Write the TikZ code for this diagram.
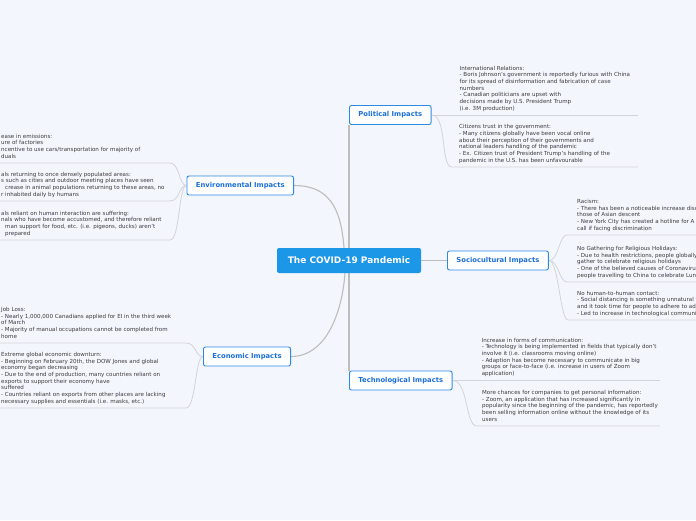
\documentclass[tikz,border=0pt]{standalone}
\usepackage{fontspec}
\setmainfont{DejaVu Sans}
\usepackage{xcolor}
\usepackage{tikz}
\usetikzlibrary{positioning, backgrounds}
\definecolor{paper}{HTML}{F4F6FD}
\definecolor{hubblue}{HTML}{1C96E6}
\definecolor{edgeblue}{HTML}{2B8AE6}
\definecolor{titleblue}{HTML}{1A6FD6}
\definecolor{stem}{HTML}{BDBDBD}
\definecolor{twiggray}{HTML}{D3D4D9}
\definecolor{notegray}{HTML}{3C3C3C}

\begin{document}
\begin{tikzpicture}[x=1pt, y=-1pt,
    hub/.style={fill=hubblue, rounded corners=2pt, text=white,
                minimum width=144pt, minimum height=25pt,
                font=\fontsize{9}{11}\selectfont\bfseries},
    impact/.style={draw=edgeblue, line width=0.9pt, fill=white, rounded corners=2pt,
                   text=titleblue, minimum height=19pt, inner xsep=9pt,
                   font=\fontsize{6.8}{8}\selectfont\bfseries},
    note/.style={anchor=south west, align=left, inner xsep=0pt, inner ysep=2.7pt,
                 text=notegray, font=\fontsize{5.55}{6.67}\selectfont,
                 execute at end node=\strut},
    limb/.style={draw=stem, line width=1.1pt},
    twig/.style={draw=twiggray, line width=0.8pt}]
    \useasboundingbox (0,0) rectangle (696,520);

    \node[hub] (covid) at (349,260.5) {The COVID-19 Pandemic};
    \node[impact, anchor=west] (political) at (349,115) {Political Impacts};
    \node[impact, anchor=east] (environment) at (294,185.5) {Environmental Impacts};
    \node[impact, anchor=west] (society) at (447,260.5) {Sociocultural Impacts};
    \node[impact, anchor=east] (economy) at (291,356.5) {Economic Impacts};
    \node[impact, anchor=west] (technology) at (349,380.5) {Technological Impacts};

    \coordinate (polrim) at (638,0);
    \coordinate (socrim) at (700,0);
    \coordinate (techrim) at (660,0);
    \coordinate (envrim) at (170,0);
    \coordinate (ecorim) at (186,0);

    \node[note, xshift=28pt] (relations) at (political.east) {International Relations:\\
      - Boris Johnson's government is reportedly furious with China\\
      for its spread of disinformation and fabrication of case\\
      numbers\\
      - Canadian politicians are upset with\\
      decisions made by U.S. President Trump\\
      (i.e. 3M production)};
    \node[note] (trust) at (459,167) {Citizens trust in the government:\\
      - Many citizens globally have been vocal online\\
      about their perception of their governments and\\
      national leaders handling of the pandemic\\
      - Ex. Citizen trust of President Trump's handling of the\\
      pandemic in the U.S. has been unfavourable};

    \node[note] (racism) at (577,235) {Racism:\\
      - There has been a noticeable increase disc\\
      those of Asian descent\\
      - New York City has created a hotline for A\\
      call if facing discrimination};
    \node[note] (gathering) at (577,282) {No Gathering for Religious Holidays:\\
      - Due to health restrictions, people globally\\
      gather to celebrate religious holidays\\
      - One of the believed causes of Coronaviru\\
      people travelling to China to celebrate Luna};
    \node[note] (contact) at (577,320) {No human-to-human contact:\\
      - Social distancing is something unnatural t\\
      and it took time for people to adhere to adj\\
      - Led to increase in technological communi};

    \node[note, xshift=29pt] (communication) at (technology.east) {Increase in forms of communication:\\
      - Technology is being implemented in fields that typically don't\\
      involve it (i.e. classrooms moving online)\\
      - Adaption has become necessary to communicate in big\\
      groups or face-to-face (i.e. increase in users of Zoom\\
      application)};
    \node[note] (privacy) at (482,426) {More chances for companies to get personal information:\\
      - Zoom, an application that has increased significantly in\\
      popularity since the beginning of the pandemic, has reportedly\\
      been selling information online without the knowledge of its\\
      users};

    \node[note] (emissions) at (1,163) {ease in emissions:\\
      ure of factories\\
      ncentive to use cars/transportation for majority of\\
      duals};
    \node[note] (wildlife) at (1,201) {als returning to once densely populated areas:\\
      s such as cities and outdoor meeting places have seen\\
      \hspace*{4pt}crease in animal populations returning to these areas, no\\
      r inhabited daily by humans};
    \node[note] (animals) at (1,240) {als reliant on human interaction are suffering:\\
      nals who have become accustomed, and therefore reliant\\
      \hspace*{4pt}man support for food, etc. (i.e. pigeons, ducks) aren't\\
      \hspace*{4pt}prepared};

    \node[note] (jobs) at (1,343) {Job Loss:\\
      - Nearly 1,000,000 Canadians applied for EI in the third week\\
      of March\\
      - Majority of manual occupations cannot be completed from\\
      home};
    \node[note] (downturn) at (1,408) {Extreme global economic downturn:\\
      - Beginning on February 20th, the DOW Jones and global\\
      economy began decreasing\\
      - Due to the end of production, many countries reliant on\\
      exports to support their economy have\\
      suffered\\
      - Countries reliant on exports from other places are lacking\\
      necessary supplies and essentials (i.e. masks, etc.)};

    \begin{pgfonlayer}{background}
      \fill[paper] (0,0) rectangle (696,520);
      \draw[limb] (covid.north) -- (political.south west);
      \draw[limb] (covid.south) -- (technology.north west);
      \draw[limb] (covid.east) -- (society.west);
      \draw[limb] ([xshift=-5pt]covid.north) .. controls +(-3,-40) and +(35,0) .. (environment.east);
      \draw[limb] ([xshift=-4pt]covid.south) .. controls +(-3,40) and +(35,0) .. (economy.east);

      \draw[twig] (political.east) -- (relations.south west -| polrim);
      \draw[twig] (political.east) .. controls +(16,0) and +(-12,0) .. ([xshift=-7pt]trust.south west) -- (trust.south west -| polrim);

      \draw[twig] (society.east) .. controls +(10,0) and +(-8,0) .. ([xshift=-10pt]racism.south west) -- (racism.south west -| socrim);
      \draw[twig] (society.east) .. controls +(10,0) and +(-8,0) .. ([xshift=-10pt]gathering.south west) -- (gathering.south west -| socrim);
      \draw[twig] (society.east) .. controls +(10,0) and +(-8,0) .. ([xshift=-9pt]contact.south west) -- (contact.south west -| socrim);

      \draw[twig] (technology.east) -- (communication.south west -| techrim);
      \draw[twig] (technology.east) .. controls +(16,0) and +(-12,0) .. ([xshift=-5pt]privacy.south west) -- (privacy.south west -| techrim);

      \draw[twig] ([xshift=-3pt]emissions.south west) -- (emissions.south west -| envrim) .. controls +(10,0) and +(-8,0) .. (environment.west);
      \draw[twig] ([xshift=-3pt]wildlife.south west) -- (wildlife.south west -| envrim) .. controls +(10,0) and +(-8,0) .. (environment.west);
      \draw[twig] ([xshift=-3pt]animals.south west) -- (animals.south west -| envrim) .. controls +(10,0) and +(-8,0) .. (environment.west);

      \draw[twig] ([xshift=-3pt]jobs.south west) -- (jobs.south west -| ecorim) .. controls +(10,0) and +(-8,0) .. (economy.west);
      \draw[twig] ([xshift=-3pt]downturn.south west) -- (downturn.south west -| ecorim) .. controls +(10,0) and +(-8,0) .. (economy.west);
    \end{pgfonlayer}
\end{tikzpicture}
\end{document}
